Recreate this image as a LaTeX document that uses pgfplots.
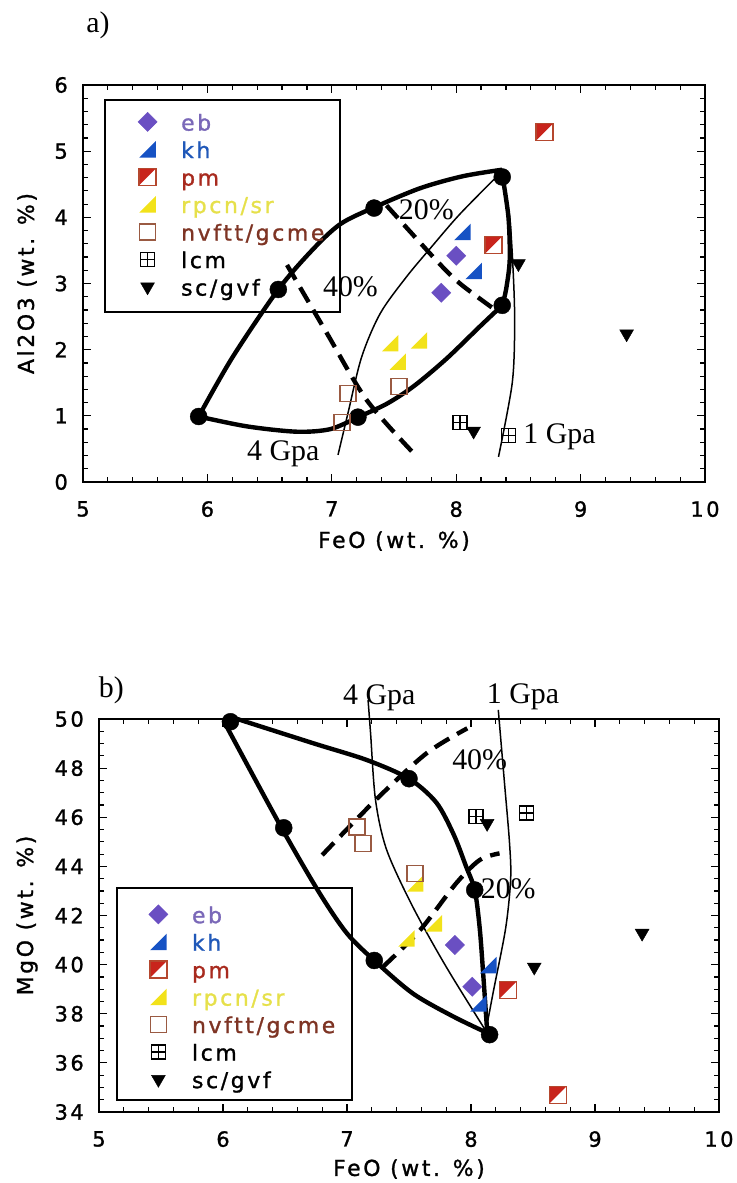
\documentclass[border=0pt]{standalone}
\usepackage{fontspec}
\setmainfont{Liberation Serif}
\newfontfamily\geneva[LetterSpace=12,FakeBold=1.2]{DejaVu Sans}
\usepackage{pgfplots}
\pgfplotsset{compat=1.18}

\definecolor{ebc}{HTML}{6A4FC2}
\definecolor{ebt}{HTML}{7A68B8}
\definecolor{khc}{HTML}{1652C4}
\definecolor{kht}{HTML}{2058B8}
\definecolor{pmc}{HTML}{C8241C}
\definecolor{pme}{HTML}{B5472E}
\definecolor{pmt}{HTML}{A82A1E}
\definecolor{ryc}{HTML}{F2E21A}
\definecolor{ryt}{HTML}{E6E04A}
\definecolor{nvc}{HTML}{9A5A42}
\definecolor{nvt}{HTML}{7E3424}

\pgfdeclareplotmark{rtri}{%
  \pgfpathmoveto{\pgfqpoint{-\pgfplotmarksize}{-\pgfplotmarksize}}%
  \pgfpathlineto{\pgfqpoint{\pgfplotmarksize}{-\pgfplotmarksize}}%
  \pgfpathlineto{\pgfqpoint{\pgfplotmarksize}{\pgfplotmarksize}}%
  \pgfpathclose\pgfusepathqfill}
\pgfdeclareplotmark{halfsq}{%
  \pgfpathmoveto{\pgfqpoint{-\pgfplotmarksize}{-\pgfplotmarksize}}%
  \pgfpathlineto{\pgfqpoint{-\pgfplotmarksize}{\pgfplotmarksize}}%
  \pgfpathlineto{\pgfqpoint{\pgfplotmarksize}{\pgfplotmarksize}}%
  \pgfpathclose\pgfusepathqfill
  \pgfpathrectangle{\pgfqpoint{-\pgfplotmarksize}{-\pgfplotmarksize}}{\pgfqpoint{2\pgfplotmarksize}{2\pgfplotmarksize}}%
  \pgfusepathqstroke}
\pgfdeclareplotmark{boxplus}{%
  \pgfpathrectangle{\pgfqpoint{-\pgfplotmarksize}{-\pgfplotmarksize}}{\pgfqpoint{2\pgfplotmarksize}{2\pgfplotmarksize}}%
  \pgfpathmoveto{\pgfqpoint{0pt}{-\pgfplotmarksize}}\pgfpathlineto{\pgfqpoint{0pt}{\pgfplotmarksize}}%
  \pgfpathmoveto{\pgfqpoint{-\pgfplotmarksize}{0pt}}\pgfpathlineto{\pgfqpoint{\pgfplotmarksize}{0pt}}%
  \pgfusepathqstroke}

\newcommand{\lrow}{\rule[-6bp]{0pt}{25bp}}
\pgfplotsset{
  myaxis/.style={
    scale only axis, clip=false,
    xmin=5, xmax=10, xtick={5,...,10}, minor x tick num=4,
    tick align=inside, major tick length=8bp, minor tick length=5bp,
    axis line style={line width=1.6bp},
    every tick/.style={black, line width=1.2bp},
    ticklabel style={font=\geneva\fontsize{21}{24}\selectfont},
    /pgf/number format/assume math mode=true,
    xticklabel style={inner sep=0pt, yshift=-19bp},
    yticklabel style={inner sep=0pt, xshift=-15bp},
    legend cell align=left,
    legend style={draw=none, fill=none, anchor=north west, inner sep=0pt,
      font=\geneva\fontsize{22}{26}\selectfont, row sep=5bp, column sep=23bp,
      nodes={inner sep=1bp}},
  },
  thickc/.style={smooth, line width=4.4bp, black, forget plot},
  thinc/.style={smooth, line width=1.5bp, black, forget plot},
  dashc/.style={smooth, line width=4.4bp, black, dash pattern=on 17bp off 9bp, forget plot},
  dots/.style={only marks, mark=*, mark size=8.5bp, black, forget plot},
  ebs/.style={only marks, mark=square*, mark size=6.8bp, mark options={rotate=45, fill=ebc, draw=ebc}},
  khs/.style={only marks, mark=rtri, mark size=8.2bp, mark options={fill=khc, draw=khc}},
  pms/.style={only marks, mark=halfsq, mark size=8.5bp, mark options={fill=pmc, draw=pme, line width=1.4bp}},
  rys/.style={only marks, mark=rtri, mark size=8.2bp, mark options={fill=ryc, draw=ryc}},
  nvs/.style={only marks, mark=square, mark size=8bp, mark options={draw=nvc, line width=1.5bp}},
  lcs/.style={only marks, mark=boxplus, mark size=7bp, mark options={draw=black, line width=1.3bp}},
  scs/.style={only marks, mark=triangle*, mark size=8bp, mark options={rotate=180, fill=black, draw=black}},
}

\begin{document}
\begin{tikzpicture}
\useasboundingbox (0bp,0bp) rectangle (737bp,-1183bp);

% ---------------- panel a ----------------
\begin{axis}[myaxis, at={(83bp,-482bp)}, anchor=south west, width=622bp, height=397bp,
  ymin=0, ymax=6, ytick={0,...,6}, minor y tick num=4,
  legend style={at={(0.088,0.936)}}]
\draw[line width=1.6bp] (rel axis cs:0.035,0.428) rectangle (rel axis cs:0.413,0.962);
% thick loop
\addplot[thickc] coordinates {(5.93,0.99) (6.20,1.88) (6.57,2.91) (6.85,3.52) (7.07,3.90) (7.34,4.15) (7.71,4.44) (8.05,4.62) (8.37,4.72)};
\addplot[thickc] coordinates {(8.37,4.65) (8.42,4.0) (8.43,3.35) (8.40,2.9) (8.37,2.67)};
\addplot[thickc] coordinates {(8.37,2.67) (8.19,2.35) (7.92,1.86) (7.66,1.45) (7.44,1.18) (7.21,0.98)};
\addplot[thickc] coordinates {(7.21,0.98) (6.99,0.80) (6.72,0.76) (6.32,0.84) (5.93,0.99)};
% thin lines
\addplot[thinc] coordinates {(7.05,0.41) (7.13,1.04) (7.24,1.89) (7.39,2.55) (7.60,3.10) (7.80,3.55) (8.03,4.05) (8.36,4.68)};
\addplot[thinc] coordinates {(8.34,0.38) (8.45,1.49) (8.47,2.35) (8.46,3.10) (8.43,4.0) (8.37,4.62)};
% dashed
\addplot[dashc] coordinates {(6.64,3.28) (6.96,2.25) (7.28,1.24) (7.66,0.43)};
\addplot[dashc] coordinates {(7.44,4.18) (7.84,3.35) (8.03,3.0) (8.30,2.62)};
\addplot[dots] coordinates {(5.93,0.99) (6.57,2.91) (7.34,4.14) (8.37,4.61) (8.37,2.67) (7.21,0.98)};
% data
\addplot[ebs] coordinates {(8.00,3.42) (7.88,2.86)};
\addlegendentry{\textcolor{ebt}{eb}\lrow}
\addplot[khs] coordinates {(8.05,3.78) (8.14,3.19)};
\addlegendentry{\textcolor{kht}{kh}\lrow}
\addplot[pms] coordinates {(8.71,5.29) (8.30,3.58)};
\addlegendentry{\textcolor{pmt}{pm}\lrow}
\addplot[rys] coordinates {(7.47,2.10) (7.70,2.14) (7.53,1.82)};
\addlegendentry{\textcolor{ryt}{rpcn/sr}\lrow}
\addplot[nvs] coordinates {(7.13,1.34) (7.54,1.44) (7.08,0.90)};
\addlegendentry{\textcolor{nvt}{nvftt/gcme}\lrow}
\addplot[lcs] coordinates {(8.03,0.90) (8.42,0.70)};
\addlegendentry{lcm\lrow}
\addplot[scs] coordinates {(8.50,3.30) (9.37,2.24) (8.14,0.77)};
\addlegendentry{sc/gvf\lrow}
% annotations
\node[font=\fontsize{30}{34}\selectfont] at (axis cs:7.76,4.11) {20\%};
\node[font=\fontsize{30}{34}\selectfont] at (axis cs:7.15,2.95) {40\%};
\node[font=\fontsize{30}{34}\selectfont] at (axis cs:6.61,0.43) {4 Gpa};
\node[font=\fontsize{30}{34}\selectfont] at (axis cs:8.83,0.68) {1 Gpa};
\node[font=\fontsize{30}{34}\selectfont] at (axis cs:5.12,6.90) {a)};
\node[font=\geneva\fontsize{22}{26}\selectfont] at (rel axis cs:0.5,0) [yshift=-59bp] {FeO (wt. \%)};
\node[font=\geneva\fontsize{22}{26}\selectfont, xshift=-56bp, rotate=90] at (rel axis cs:0,0.5) {Al2O3 (wt. \%)};
\end{axis}

% ---------------- panel b ----------------
\begin{axis}[myaxis, at={(99bp,-1112bp)}, anchor=south west, width=620bp, height=393bp,
  ymin=34, ymax=50, ytick={34,36,...,50}, minor y tick num=3,
  legend style={at={(0.080,0.532)}}]
\draw[line width=1.6bp] (rel axis cs:0.029,0.031) rectangle (rel axis cs:0.408,0.570);
\addplot[thickc] coordinates {(6.06,50.09) (6.73,49.01) (7.16,48.33) (7.50,47.57) (7.72,46.6) (7.86,45.3) (7.96,44.0) (8.03,43.04) (8.07,41.5) (8.10,39.5) (8.13,37.3)};
\addplot[thickc] coordinates {(6.03,49.69) (6.47,45.59) (6.78,42.9) (7.0,41.27) (7.22,40.17) (7.53,38.83) (7.86,37.88) (8.14,37.2)};
\addplot[thinc] coordinates {(7.17,50.77) (7.19,49.43) (7.23,46.7) (7.32,44.67) (7.53,42.36) (7.80,39.91) (8.12,37.3)};
\addplot[thinc] coordinates {(8.22,50.37) (8.27,47.4) (8.31,45.0) (8.32,43.5) (8.28,41.5) (8.18,38.9) (8.12,37.3)};
\addplot[dashc] coordinates {(6.80,44.46) (7.23,46.70) (7.64,48.60) (7.97,49.62)};
\addplot[dashc] coordinates {(7.29,39.91) (7.59,41.41) (7.88,43.31) (8.07,44.26) (8.23,44.53)};
\addplot[dots] coordinates {(6.06,49.89) (6.49,45.57) (7.50,47.57) (8.03,43.04) (7.22,40.17) (8.15,37.15)};
\addplot[ebs] coordinates {(7.87,40.80) (8.01,39.10)};
\addlegendentry{\textcolor{ebt}{eb}\lrow}
\addplot[khs] coordinates {(8.14,39.98) (8.06,38.42)};
\addlegendentry{\textcolor{kht}{kh}\lrow}
\addplot[pms] coordinates {(8.30,38.97) (8.70,34.69)};
\addlegendentry{\textcolor{pmt}{pm}\lrow}
\addplot[rys] coordinates {(7.48,41.07) (7.70,41.68) (7.55,43.31)};
\addlegendentry{\textcolor{ryt}{rpcn/sr}\lrow}
\addplot[nvs] coordinates {(7.08,45.61) (7.13,44.94) (7.55,43.72)};
\addlegendentry{\textcolor{nvt}{nvftt/gcme}\lrow}
\addplot[lcs] coordinates {(8.04,46.02) (8.45,46.17)};
\addlegendentry{lcm\lrow}
\addplot[scs] coordinates {(8.13,45.75) (8.51,39.90) (9.38,41.28)};
\addlegendentry{sc/gvf\lrow}
\node[font=\fontsize{30}{34}\selectfont] at (axis cs:8.07,48.33) {40\%};
\node[font=\fontsize{30}{34}\selectfont] at (axis cs:8.30,43.10) {20\%};
\node[font=\fontsize{30}{34}\selectfont] at (axis cs:7.26,50.85) {4 Gpa};
\node[font=\fontsize{30}{34}\selectfont] at (axis cs:8.42,50.90) {1 Gpa};
\node[font=\fontsize{30}{34}\selectfont] at (axis cs:5.10,51.18) {b)};
\node[font=\geneva\fontsize{22}{26}\selectfont] at (rel axis cs:0.5,0) [yshift=-57bp] {FeO (wt. \%)};
\node[font=\geneva\fontsize{22}{26}\selectfont, xshift=-72bp, rotate=90] at (rel axis cs:0,0.5) {MgO (wt. \%)};
\end{axis}
\end{tikzpicture}
\end{document}
